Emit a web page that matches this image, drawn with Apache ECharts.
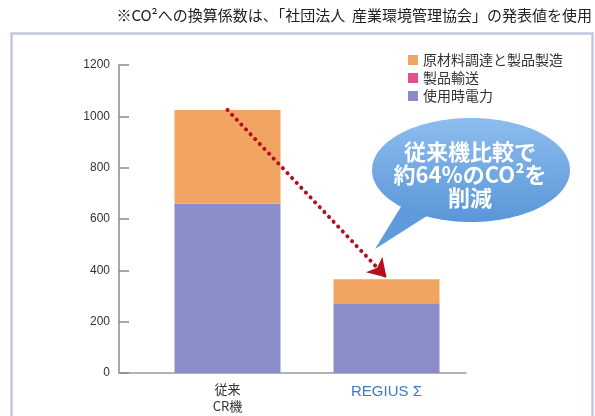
<!DOCTYPE html>
<html><head><meta charset="utf-8">
<script src="https://cdn.jsdelivr.net/npm/echarts@6/dist/echarts.min.js"></script>
<style>html,body{margin:0;padding:0;background:#fff}#c{width:595px;height:416px}</style>
</head><body><div id="c"></div>
<script>
const categories = ['従来\nCR機', 'REGIUS Σ'];
const materialsManufacturing = [365, 93];   // 原材料調達と製品製造
const transport = [0, 0];                   // 製品輸送
const electricity = [660, 272];             // 使用時電力
const yTicks = [0, 200, 400, 600, 800, 1000, 1200];
const arrowFrom = 1025, arrowTo = 372;

const FONT = '"Liberation Sans", Arial, "Noto Sans CJK JP", sans-serif';
const JFONT = '"Noto Sans CJK JP", "Liberation Sans", sans-serif';

const chart = echarts.init(document.getElementById('c'), null, {renderer: 'canvas'});
chart.setOption({
  animation: false,
  backgroundColor: '#fff',
  textStyle: {fontFamily: FONT},
  grid: {left: 148, right: 129, top: 65, bottom: 43, containLabel: false},
  legend: {
    orient: 'vertical', left: 403, top: 48, itemWidth: 10, itemHeight: 10, itemGap: 4, itemTextGap: 5,
    icon: 'rect',
    data: ['原材料調達と製品製造', '製品輸送', '使用時電力'],
    textStyle: {fontFamily: JFONT, fontSize: 14, color: '#333', lineHeight: 14}
  },
  xAxis: {
    type: 'category', data: categories,
    axisLine: {lineStyle: {color: '#9a9a9a', width: 1.5}},
    axisTick: {show: false},
    axisLabel: {
      margin: 8, interval: 0,
      formatter: function (v, i) { return i === 1 ? '{b|' + v + '}' : '{a|' + v + '}'; },
      rich: {
        a: {fontFamily: JFONT, fontSize: 13, lineHeight: 17, color: '#333', align: 'center'},
        b: {fontFamily: FONT, fontSize: 15, lineHeight: 20, color: '#3b7cc4', align: 'center', padding: [1, 0, 0, 0]}
      }
    }
  },
  yAxis: {
    type: 'value', min: 0, max: 1200, interval: 200, offset: 29,
    axisLine: {show: true, lineStyle: {color: '#8a8a8a', width: 1.5}},
    axisTick: {show: true, inside: true, length: 10, lineStyle: {color: '#8a8a8a', width: 1.5}},
    splitLine: {show: false},
    axisLabel: {margin: 9, fontSize: 12, color: '#333',
      formatter: function (v) { return yTicks.indexOf(v) >= 0 ? String(v) : ''; }}
  },
  series: [
    {name: '使用時電力', type: 'bar', stack: 's', data: electricity, barWidth: 106,
     itemStyle: {color: '#8b8dc8'}},
    {name: '製品輸送', type: 'bar', stack: 's', data: transport, barWidth: 106,
     itemStyle: {color: '#e0508c'}},
    {name: '原材料調達と製品製造', type: 'bar', stack: 's', data: materialsManufacturing, barWidth: 106,
     itemStyle: {color: '#f2a463'},
     markLine: {
       silent: true, symbol: ['none', 'arrow'], symbolSize: [17, 18],
       label: {show: false},
       lineStyle: {color: '#b3121c', width: 4, type: [0.1, 6.6], cap: 'round'},
       data: [[{coord: [categories[0], arrowFrom]}, {coord: [categories[1], arrowTo]}]]
     }}
  ],
  graphic: [
    {type: 'rect', silent: true, z: -1, shape: {x: 11.5, y: 33.5, width: 581, height: 420},
     style: {fill: '#fff', stroke: '#c3c6e2', lineWidth: 2.5}},
    {type: 'line', silent: true, shape: {x1: 119, y1: 373, x2: 148, y2: 373},
     style: {stroke: '#9a9a9a', lineWidth: 1.5}},
    {type: 'text', silent: true, right: 3, top: 8,
     style: {text: '※CO²への換算係数は、「社団法人  産業環境管理協会」の発表値を使用',
             font: '15px ' + JFONT, fill: '#222'}},
    {type: 'polygon', silent: true, z: 10,
     shape: {points: [[402, 205], [430, 214], [375, 249]]},
     style: {fill: '#5f9bdc'}},
    {type: 'ellipse', silent: true, z: 10,
     shape: {cx: 471, cy: 170, rx: 99, ry: 52},
     style: {fill: new echarts.graphic.LinearGradient(0, 0, 0, 1, [
       {offset: 0, color: '#8dbdee'}, {offset: 1, color: '#5a96d8'}])}},
    {type: 'text', silent: true, z: 11, x: 470, y: 175,
     style: {text: '従来機比較で\n約64%のCO²を\n削減', font: 'bold 22px ' + JFONT,
             lineHeight: 23, fill: '#fff', align: 'center', verticalAlign: 'middle'}}
  ]
});
</script></body></html>
